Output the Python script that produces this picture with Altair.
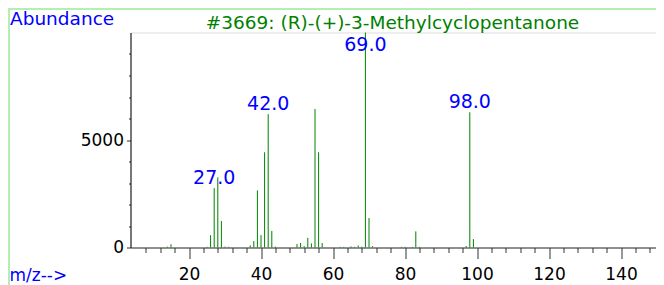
import altair as alt
import pandas as pd

# Mass spectrum of (R)-(+)-3-Methylcyclopentanone
mz = [14, 15, 25, 26, 27, 28, 29, 30, 31, 37, 38, 39, 40, 41, 42, 43, 44,
      50, 51, 52, 53, 54, 55, 56, 57, 62, 63, 65, 66, 67, 68, 69, 70, 71,
      79, 80, 82, 83, 84, 97, 98, 99]
abundance = [40, 150, 30, 573, 2760, 3260, 1230, 40, 30, 100, 300, 2656, 573, 4430, 6200, 770, 40,
             160, 210, 60, 450, 190, 6440, 4430, 210, 30, 30, 50, 30, 93, 40, 9999, 1370, 60,
             30, 30, 30, 750, 30, 70, 6290, 390]
label_mz = [27, 42, 69, 98]
title_text = "#3669: (R)-(+)-3-Methylcyclopentanone"
x_ticks = list(range(8, 150, 4))
y_ticks = list(range(0, 10000, 1000))

FONT = "DejaVu Sans"
W, H = 525.5, 215

df = pd.DataFrame({"mz": mz, "ab": abundance})
lab = df[df["mz"].isin(label_mz)].copy()
lab["ly"] = lab["ab"].clip(upper=8950)
lab["txt"] = lab["mz"].map(lambda v: f"{v:.1f}")

xscale = alt.Scale(domain=[3.75, 149.72], nice=False, zero=False)
yscale = alt.Scale(domain=[0, 10000], nice=False)

xaxis = alt.Axis(
    values=x_ticks, title=None, grid=False,
    tickSize={"condition": {"test": "datum.value % 20 === 0", "value": 11}, "value": 5},
    labelExpr="datum.value % 20 === 0 ? datum.label : ''",
    labelOverlap=False, labelFlush=False, labelFont=FONT, labelFontSize=17,
    labelColor="black", tickColor="#333333", domainColor="#333333",
    labelPadding=8,
)
yaxis = alt.Axis(
    values=y_ticks, title=None, grid=False,
    tickSize={"condition": {"test": "datum.value % 5000 === 0", "value": 4}, "value": 2},
    labelExpr="datum.value % 5000 === 0 ? datum.label : ''",
    labelOverlap=False, labelFlush=False, labelFont=FONT, labelFontSize=17,
    labelColor="black", tickColor="#333333", domainColor="black", labelPadding=3,
    format="d",
)

bars = alt.Chart(df).mark_rule(color="#008000", strokeWidth=1).encode(
    x=alt.X("mz:Q", scale=xscale, axis=xaxis),
    y=alt.Y("ab:Q", scale=yscale, axis=yaxis),
    y2=alt.datum(0),
)

labels = alt.Chart(lab).mark_text(
    color="#0000ff", font=FONT, fontSize=19, baseline="alphabetic", dy=-4.5
).encode(
    x=alt.X("mz:Q", scale=xscale, axis=xaxis),
    y=alt.Y("ly:Q", scale=yscale, axis=yaxis),
    text="txt:N",
)

one = pd.DataFrame({"a": [0]})
title = alt.Chart(one).mark_text(
    text=title_text, color="#008000", font=FONT, fontSize=18.5,
    align="center", baseline="alphabetic"
).encode(x=alt.value(262), y=alt.value(-3.5))
abund = alt.Chart(one).mark_text(
    text="Abundance", color="#0000ff", font=FONT, fontSize=18.5,
    align="left", baseline="alphabetic"
).encode(x=alt.value(-120.5), y=alt.value(-7.5))
mzlab = alt.Chart(one).mark_text(
    text="m/z-->", color="#0000ff", font=FONT, fontSize=17,
    align="left", baseline="alphabetic"
).encode(x=alt.value(-121), y=alt.value(248.5))

frame_top = alt.Chart(one).mark_rule(color="#b2efb2", strokeWidth=2).encode(
    x=alt.value(-122.5), x2=alt.value(540), y=alt.value(-23.5))
frame_left = alt.Chart(one).mark_rule(color="#b2efb2", strokeWidth=2).encode(
    x=alt.value(-121.5), y=alt.value(-24.5), y2=alt.value(260))

chart = alt.layer(frame_top, frame_left, bars, labels, title, abund, mzlab).properties(
    width=W, height=H,
    autosize=alt.AutoSizeParams(type="none"),
    padding={"left": 122.5, "top": 24.5, "right": 0, "bottom": 37.5},
).configure_view(stroke=None).configure(background="white")

chart.save("out.html", embed_options={"renderer": "svg", "actions": False})
